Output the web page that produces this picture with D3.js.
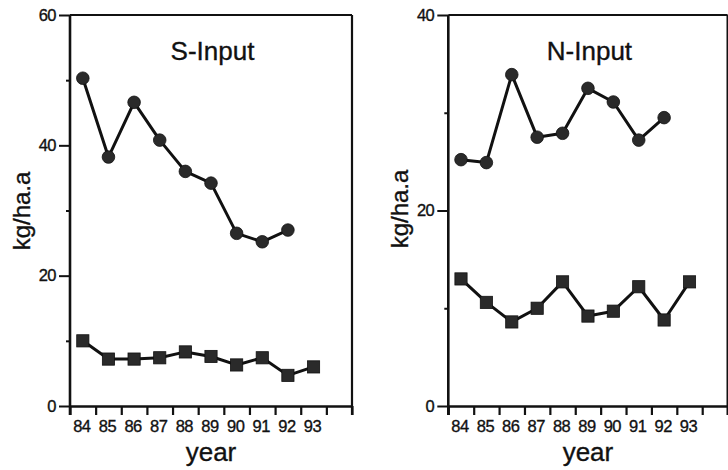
<!DOCTYPE html>
<html>
<head>
<meta charset="utf-8">
<script src="https://cdn.jsdelivr.net/npm/d3@7"></script>
<style>
  html, body { margin: 0; padding: 0; background: #fff; }
  svg { display: block; }
  text { font-family: "Liberation Sans", Arial, Helvetica, sans-serif; fill: #111; stroke: #111; stroke-width: 0.35px; }
</style>
</head>
<body>
<svg id="chart" width="728" height="470"></svg>
<script>
// Years shown on the x axis (19xx)
const years = [84, 85, 86, 87, 88, 89, 90, 91, 92, 93];

// S-Input (kg/ha.a): upper series (circles, 84–92) and lower series (squares, 84–93)
const sCircles = [50.3, 38.2, 46.6, 40.8, 36.0, 34.2, 26.5, 25.2, 27.0];
const sSquares = [10.0, 7.2, 7.2, 7.4, 8.3, 7.6, 6.3, 7.4, 4.7, 6.0];

// N-Input (kg/ha.a): upper series (circles, 84–92) and lower series (squares, 84–93)
const nCircles = [25.2, 24.9, 33.9, 27.5, 27.9, 32.5, 31.1, 27.2, 29.5];
const nSquares = [13.0, 10.6, 8.6, 10.0, 12.7, 9.2, 9.7, 12.2, 8.8, 12.7];

// Y-axis ticks per panel
const sMajorTicks = [0, 20, 40, 60];
const sMinorTicks = [10, 30, 50];
const nMajorTicks = [0, 20, 40];
const nMinorTicks = [10, 30];

const svg = d3.select("#chart");
const ink = "#111";
const markFill = "#2a2a2a";

function panel(opts) {
  const { left, right, top, bottom, yMax, majors, minors, circles, squares, title } = opts;
  const g = svg.append("g");

  // year slots: each year sits in the middle of its own slot, one spare slot at the end
  const x = d3.scaleLinear().domain([years[0] - 0.5, years[years.length - 1] + 1.5]).range([left, right]);
  const y = d3.scaleLinear().domain([0, yMax]).range([bottom, top]);

  // frame: top and right edges
  g.append("line").attr("x1", left).attr("x2", right).attr("y1", top).attr("y2", top)
    .attr("stroke", ink).attr("stroke-width", 2);
  g.append("line").attr("x1", right).attr("x2", right).attr("y1", top).attr("y2", bottom + 9)
    .attr("stroke", ink).attr("stroke-width", 2.2);

  // x axis: slot boundary ticks
  const bounds = d3.range(years[0] - 0.5, years[years.length - 1] + 2, 1);
  const xAxis = g.append("g").attr("transform", `translate(0,${bottom})`)
    .call(d3.axisBottom(x).tickValues(bounds).tickFormat("").tickSizeInner(9).tickSizeOuter(0));
  xAxis.select(".domain").attr("stroke", ink).attr("stroke-width", 2.6);
  xAxis.selectAll(".tick line").attr("stroke", ink).attr("stroke-width", 2.2);

  // x axis: year labels centred in slots
  const xLabels = g.append("g").attr("transform", `translate(0,${bottom})`)
    .call(d3.axisBottom(x).tickValues(years).tickFormat(d => String(d)).tickSize(0).tickPadding(14));
  xLabels.select(".domain").remove();
  xLabels.selectAll(".tick text").attr("font-size", 16.5).attr("fill", ink)
    .attr("dx", -1.5).attr("letter-spacing", -0.5);

  // y axis: minor ticks
  const yMinor = g.append("g").attr("transform", `translate(${left},0)`)
    .call(d3.axisLeft(y).tickValues(minors).tickFormat("").tickSizeInner(4).tickSizeOuter(0));
  yMinor.select(".domain").remove();
  yMinor.selectAll(".tick line").attr("stroke", ink).attr("stroke-width", 2);

  // y axis: major ticks with labels
  const yMajor = g.append("g").attr("transform", `translate(${left},0)`)
    .call(d3.axisLeft(y).tickValues(majors).tickFormat(d3.format("d")).tickSizeInner(11).tickSizeOuter(0).tickPadding(3));
  yMajor.select(".domain").remove();
  yMajor.selectAll(".tick line").attr("stroke", ink).attr("stroke-width", 2);
  yMajor.selectAll(".tick text").attr("font-size", 16.5).attr("fill", ink).attr("letter-spacing", -0.5);

  // y axis line, running down past the x axis like a tick
  g.append("line").attr("x1", left).attr("x2", left).attr("y1", top).attr("y2", bottom + 9)
    .attr("stroke", ink).attr("stroke-width", 2.6);

  // series lines
  const line = d3.line().x((d, i) => x(years[i])).y(d => y(d));
  g.append("path").datum(circles).attr("d", line)
    .attr("fill", "none").attr("stroke", ink).attr("stroke-width", 3).attr("stroke-linejoin", "round");
  g.append("path").datum(squares).attr("d", line)
    .attr("fill", "none").attr("stroke", ink).attr("stroke-width", 3).attr("stroke-linejoin", "round");

  // markers
  g.selectAll("circle.pt").data(circles).join("circle").attr("class", "pt")
    .attr("cx", (d, i) => x(years[i])).attr("cy", d => y(d)).attr("r", 6.3)
    .attr("fill", markFill).attr("stroke", ink).attr("stroke-width", 0.8);
  const s = 12.2;
  g.selectAll("rect.pt").data(squares).join("rect").attr("class", "pt")
    .attr("x", (d, i) => x(years[i]) - s / 2).attr("y", d => y(d) - s / 2)
    .attr("width", s).attr("height", s)
    .attr("fill", markFill).attr("stroke", ink).attr("stroke-width", 0.8);

  // panel title
  g.append("text").attr("x", (left + right) / 2 + 1.5).attr("y", 60)
    .attr("text-anchor", "middle").attr("font-size", 26).text(title);

  // axis titles
  g.append("text").attr("x", (left + right) / 2 + 0).attr("y", 461)
    .attr("text-anchor", "middle").attr("font-size", 26).text("year");
  g.append("text")
    .attr("transform", `translate(${left - 40},${opts.yTitleCenter}) rotate(-90)`)
    .attr("text-anchor", "middle").attr("font-size", 24).text("kg/ha.a");
}

panel({ left: 70, right: 352, top: 15, bottom: 406, yMax: 60,
        majors: sMajorTicks, minors: sMinorTicks,
        circles: sCircles, squares: sSquares, title: "S-Input", yTitleCenter: 211 });

panel({ left: 448.3, right: 727.6, top: 15, bottom: 406, yMax: 40,
        majors: nMajorTicks, minors: nMinorTicks,
        circles: nCircles, squares: nSquares, title: "N-Input", yTitleCenter: 209 });
</script>
</body>
</html>
